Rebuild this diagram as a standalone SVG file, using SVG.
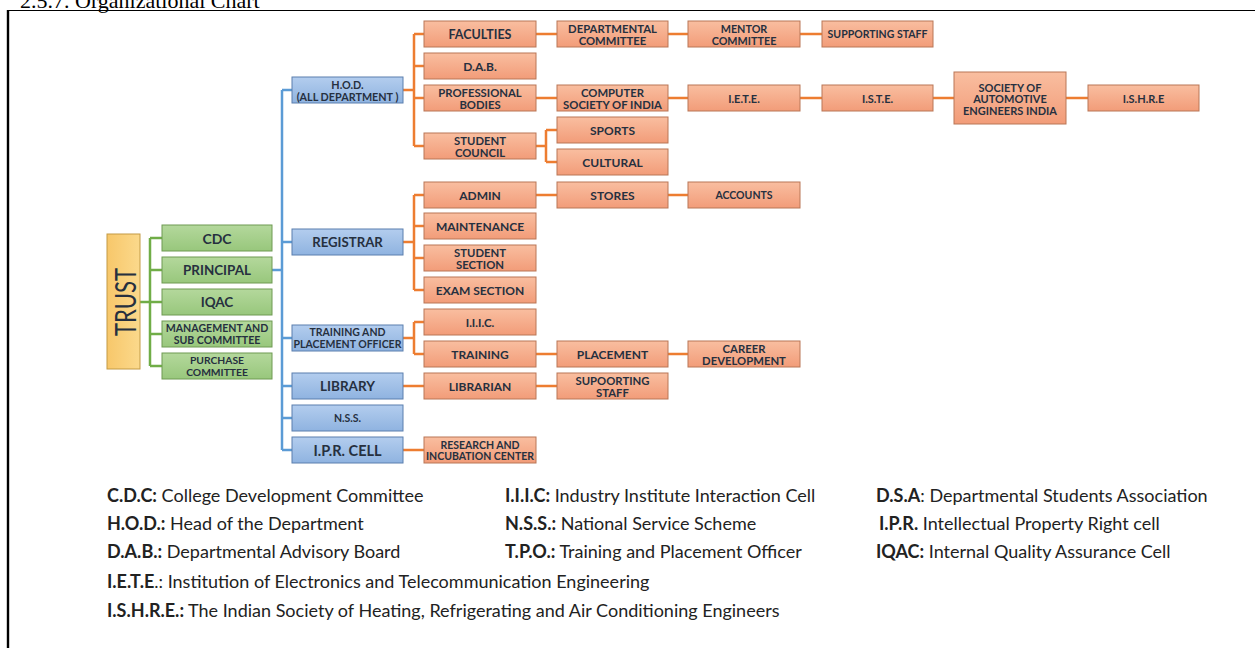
<svg xmlns="http://www.w3.org/2000/svg" width="1255" height="648" viewBox="0 0 1255 648">
<defs>
<linearGradient id="gBlue" x1="0" y1="0" x2="0" y2="1"><stop offset="0" stop-color="#b3cdee"/><stop offset="1" stop-color="#8fb3e0"/></linearGradient>
<linearGradient id="gGreen" x1="0" y1="0" x2="0" y2="1"><stop offset="0" stop-color="#b4d89c"/><stop offset="1" stop-color="#98c77c"/></linearGradient>
<linearGradient id="gOrange" x1="0" y1="0" x2="0" y2="1"><stop offset="0" stop-color="#f9bea0"/><stop offset="1" stop-color="#f29c79"/></linearGradient>
<linearGradient id="gTrust" x1="0" y1="0" x2="1" y2="0"><stop offset="0" stop-color="#f7c76a"/><stop offset="1" stop-color="#fbd98c"/></linearGradient>
<style>
.blue{fill:url(#gBlue);stroke:#5b7fae;stroke-width:1}
.green{fill:url(#gGreen);stroke:#6e9a52;stroke-width:1}
.orange{fill:url(#gOrange);stroke:#b97656;stroke-width:1}
.trust{fill:url(#gTrust);stroke:#c39a45;stroke-width:1}
.t{font-family:Lato,"Open Sans",sans-serif;font-weight:700;font-size:12px;fill:#26303f;text-anchor:middle;dominant-baseline:central}
.t2{font-size:11.3px}
.cb{stroke:#5b9bd5;stroke-width:2.5;fill:none}
.cg{stroke:#70ad47;stroke-width:2.5;fill:none}
.co{stroke:#ed7d31;stroke-width:2.5;fill:none}
.lg{font-family:Lato,"Open Sans",sans-serif;font-size:18px;fill:#222}
.lg tspan.b{font-weight:700}
</style>
</defs>
<rect width="1255" height="648" fill="#ffffff"/>
<text x="20" y="8" font-family="Liberation Serif,serif" font-size="22" fill="#000">2.5.7. Organizational Chart</text>
<line x1="8" y1="10.5" x2="1255" y2="10.5" stroke="#000" stroke-width="1.2"/>
<line x1="8" y1="10" x2="8" y2="648" stroke="#000" stroke-width="2.4"/>

<g id="connectors">
<path class="cg" d="M140 302H150M150 238V366M150 238H162M150 270H162M150 302H162M150 334H162M150 366H162"/>
<path class="cb" d="M272 270H282M282 90V450M282 90H292M282 242H292M282 338H292M282 386H292M282 418H292M282 450H292"/>
<path class="co" d="M403 90H414M414 34V146M414 34H424M414 66H424M414 98H424M414 146H424"/>
<path class="co" d="M403 242H414M414 195V290M414 195H424M414 226H424M414 258H424M414 290H424"/>
<path class="co" d="M403 338H414M414 322V354M414 322H424M414 354H424"/>
<path class="co" d="M403 386H424M403 450H424"/>
<path class="co" d="M536 34H557M668 34H688M800 34H822"/>
<path class="co" d="M536 98H557M668 98H688M800 98H822M933 98H954M1066 98H1088"/>
<path class="co" d="M536 146H546M546 130V162M546 130H557M546 162H557"/>
<path class="co" d="M536 195H557M668 195H688"/>
<path class="co" d="M536 354H557M668 354H688M536 386H557"/>
</g>

<g id="trust"><rect class="trust" x="107" y="234" width="33" height="135"/><text class="t" transform="translate(124 302) rotate(-90)" textLength="68" lengthAdjust="spacingAndGlyphs" style="font-weight:400;font-size:29px">TRUST</text></g>

<g id="cdc"><rect class="green" x="162" y="225" width="110" height="26"/><text class="t" x="217" y="238" style="font-size:14px">CDC</text></g>
<g id="principal"><rect class="green" x="162" y="257" width="110" height="26"/><text class="t" x="217" y="270" style="font-size:13.4px">PRINCIPAL</text></g>
<g id="iqac"><rect class="green" x="162" y="289" width="110" height="26"/><text class="t" x="217" y="302" style="font-size:13.5px">IQAC</text></g>
<g id="mgmt"><rect class="green" x="162" y="321" width="110" height="26"/><text class="t" style="font-size:10.6px"><tspan x="217" y="328">MANAGEMENT AND</tspan><tspan x="217" y="340">SUB COMMITTEE</tspan></text></g>
<g id="purchase"><rect class="green" x="162" y="353" width="110" height="26"/><text class="t" style="font-size:10.3px"><tspan x="217" y="360">PURCHASE</tspan><tspan x="217" y="372">COMMITTEE</tspan></text></g>

<g id="hod"><rect class="blue" x="292" y="77" width="111" height="26"/><text class="t" style="font-size:10.8px"><tspan x="347.5" y="84">H.O.D.</tspan><tspan x="347.5" y="96">(ALL DEPARTMENT )</tspan></text></g>
<g id="registrar"><rect class="blue" x="292" y="229" width="111" height="26"/><text class="t" x="347.5" y="242" style="font-size:13.2px">REGISTRAR</text></g>
<g id="tpo"><rect class="blue" x="292" y="325" width="111" height="26"/><text class="t" style="font-size:10.5px"><tspan x="347.5" y="332">TRAINING AND</tspan><tspan x="347.5" y="344">PLACEMENT OFFICER</tspan></text></g>
<g id="library"><rect class="blue" x="292" y="373" width="111" height="26"/><text class="t" x="347.5" y="386" style="font-size:13.5px">LIBRARY</text></g>
<g id="nss"><rect class="blue" x="292" y="405" width="111" height="26"/><text class="t" x="347.5" y="418" style="font-size:10.5px">N.S.S.</text></g>
<g id="ipr"><rect class="blue" x="292" y="437" width="111" height="26"/><text class="t" x="347.5" y="450" style="font-size:14.5px">I.P.R. CELL</text></g>

<g id="faculties"><rect class="orange" x="424" y="21" width="112" height="26"/><text class="t" x="480" y="34" style="font-size:12.5px">FACULTIES</text></g>
<g id="dab"><rect class="orange" x="424" y="53" width="112" height="26"/><text class="t" x="480" y="66">D.A.B.</text></g>
<g id="prof"><rect class="orange" x="424" y="85" width="112" height="26"/><text class="t t2"><tspan x="480" y="91.7">PROFESSIONAL</tspan><tspan x="480" y="104.3">BODIES</tspan></text></g>
<g id="council"><rect class="orange" x="424" y="133" width="112" height="26"/><text class="t t2"><tspan x="480" y="139.7">STUDENT</tspan><tspan x="480" y="152.3">COUNCIL</tspan></text></g>
<g id="admin"><rect class="orange" x="424" y="182" width="112" height="26"/><text class="t" x="480" y="195">ADMIN</text></g>
<g id="maint"><rect class="orange" x="424" y="213" width="112" height="26"/><text class="t" x="480" y="226">MAINTENANCE</text></g>
<g id="ssection"><rect class="orange" x="424" y="245" width="112" height="26"/><text class="t t2"><tspan x="480" y="251.7">STUDENT</tspan><tspan x="480" y="264.3">SECTION</tspan></text></g>
<g id="exam"><rect class="orange" x="424" y="277" width="112" height="26"/><text class="t" x="480" y="290">EXAM SECTION</text></g>
<g id="iiic"><rect class="orange" x="424" y="309" width="112" height="26"/><text class="t" x="480" y="322" style="font-size:11.5px">I.I.I.C.</text></g>
<g id="training"><rect class="orange" x="424" y="341" width="112" height="26"/><text class="t" x="480" y="354">TRAINING</text></g>
<g id="librarian"><rect class="orange" x="424" y="373" width="112" height="26"/><text class="t" x="480" y="386">LIBRARIAN</text></g>
<g id="research"><rect class="orange" x="424" y="437" width="112" height="26"/><text class="t" style="font-size:10.5px"><tspan x="480" y="444.5">RESEARCH AND</tspan><tspan x="480" y="455.5">INCUBATION CENTER</tspan></text></g>

<g id="deptcomm"><rect class="orange" x="557" y="21" width="111" height="26"/><text class="t t2"><tspan x="612.5" y="27.7">DEPARTMENTAL</tspan><tspan x="612.5" y="40.3">COMMITTEE</tspan></text></g>
<g id="csi"><rect class="orange" x="557" y="85" width="111" height="26"/><text class="t t2"><tspan x="612.5" y="91.7">COMPUTER</tspan><tspan x="612.5" y="104.3">SOCIETY OF INDIA</tspan></text></g>
<g id="sports"><rect class="orange" x="557" y="117" width="111" height="26"/><text class="t" x="612.5" y="130">SPORTS</text></g>
<g id="cultural"><rect class="orange" x="557" y="149" width="111" height="26"/><text class="t" x="612.5" y="162">CULTURAL</text></g>
<g id="stores"><rect class="orange" x="557" y="182" width="111" height="26"/><text class="t" x="612.5" y="195">STORES</text></g>
<g id="placement"><rect class="orange" x="557" y="341" width="111" height="26"/><text class="t" x="612.5" y="354">PLACEMENT</text></g>
<g id="supstaff2"><rect class="orange" x="557" y="373" width="111" height="26"/><text class="t t2"><tspan x="612.5" y="379.7">SUPOORTING</tspan><tspan x="612.5" y="392.3">STAFF</tspan></text></g>

<g id="mentor"><rect class="orange" x="688" y="21" width="112" height="26"/><text class="t" style="font-size:10.8px"><tspan x="744" y="28">MENTOR</tspan><tspan x="744" y="40">COMMITTEE</tspan></text></g>
<g id="iete"><rect class="orange" x="688" y="85" width="112" height="26"/><text class="t" x="744" y="98" style="font-size:11px">I.E.T.E.</text></g>
<g id="accounts"><rect class="orange" x="688" y="182" width="112" height="26"/><text class="t" x="744" y="195" style="font-size:10.5px">ACCOUNTS</text></g>
<g id="career"><rect class="orange" x="688" y="341" width="112" height="26"/><text class="t t2"><tspan x="744" y="347.7">CAREER</tspan><tspan x="744" y="360.3">DEVELOPMENT</tspan></text></g>

<g id="supstaff"><rect class="orange" x="822" y="21" width="111" height="26"/><text class="t" x="877.5" y="34" style="font-size:10.5px">SUPPORTING STAFF</text></g>
<g id="iste"><rect class="orange" x="822" y="85" width="111" height="26"/><text class="t" x="877.5" y="98" style="font-size:11px">I.S.T.E.</text></g>
<g id="sae"><rect class="orange" x="954" y="72" width="112" height="52"/><text class="t" style="font-size:11px"><tspan x="1010" y="86.5">SOCIETY OF</tspan><tspan x="1010" y="98">AUTOMOTIVE</tspan><tspan x="1010" y="109.5">ENGINEERS INDIA</tspan></text></g>
<g id="ishre"><rect class="orange" x="1088" y="85" width="111" height="26"/><text class="t" x="1143.5" y="98" style="font-size:11px">I.S.H.R.E</text></g>

<g id="legend">
<text class="lg" x="107" y="502"><tspan class="b">C.D.C:</tspan> College Development Committee</text>
<text class="lg" x="505" y="502"><tspan class="b">I.I.I.C:</tspan> Industry Institute Interaction Cell</text>
<text class="lg" x="876" y="502"><tspan class="b">D.S.A</tspan>: Departmental Students Association</text>
<text class="lg" x="107" y="530"><tspan class="b">H.O.D.:</tspan> Head of the Department</text>
<text class="lg" x="505" y="530"><tspan class="b">N.S.S.:</tspan> National Service Scheme</text>
<text class="lg" x="879" y="530"><tspan class="b">I.P.R.</tspan> Intellectual Property Right cell</text>
<text class="lg" x="107" y="558"><tspan class="b">D.A.B.:</tspan> Departmental Advisory Board</text>
<text class="lg" x="505" y="558"><tspan class="b">T.P.O.:</tspan> Training and Placement Officer</text>
<text class="lg" x="876" y="558"><tspan class="b">IQAC:</tspan> Internal Quality Assurance Cell</text>
<text class="lg" x="107" y="588"><tspan class="b">I.E.T.E</tspan>.: Institution of Electronics and Telecommunication Engineering</text>
<text class="lg" x="107" y="617"><tspan class="b">I.S.H.R.E.:</tspan> The Indian Society of Heating, Refrigerating and Air Conditioning Engineers</text>
</g>
</svg>
